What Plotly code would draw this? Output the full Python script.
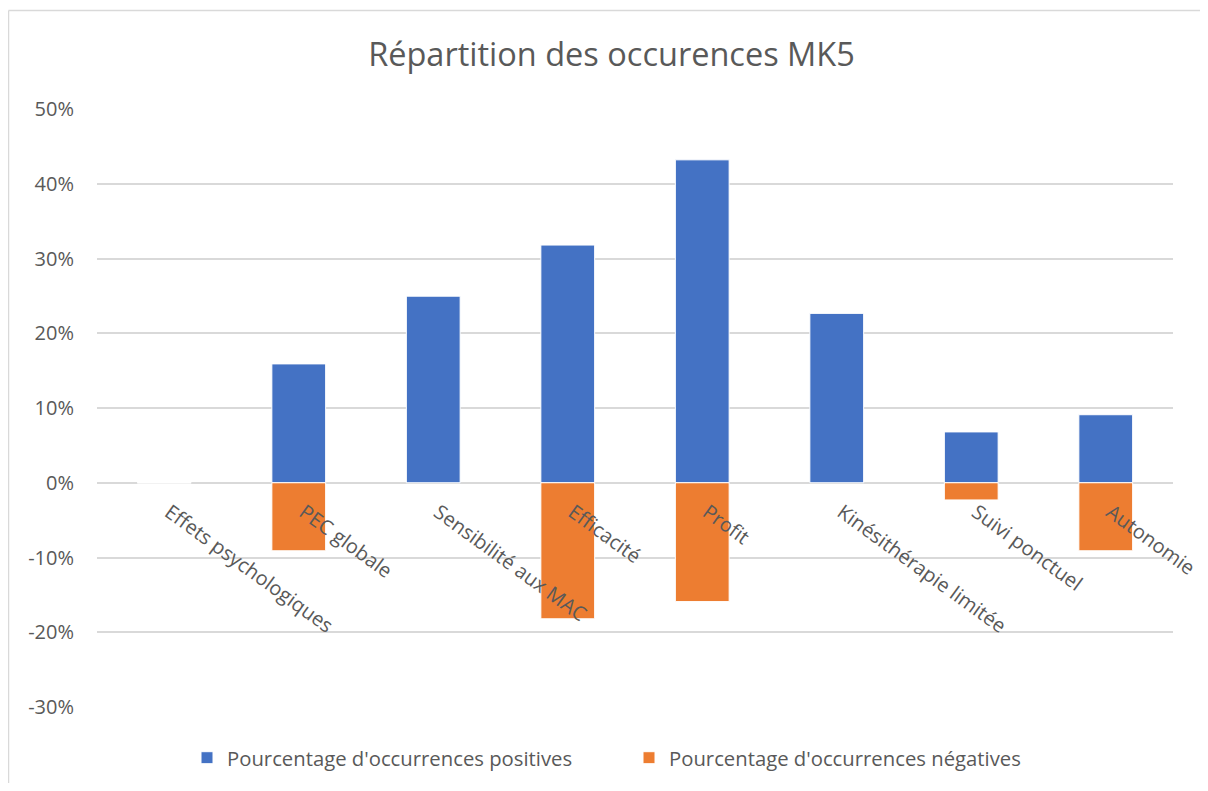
import plotly.graph_objects as go

categories = ["Effets psychologiques", "PEC globale", "Sensibilité aux MAC", "Efficacité",
              "Profit", "Kinésithérapie limitée", "Suivi ponctuel", "Autonomie"]
positives = [0, 15.9, 25.0, 31.8, 43.2, 22.7, 6.8, 9.1]
negatives = [0, -9.1, 0, -18.2, -15.9, 0, -2.3, -9.1]
series_names = ["Pourcentage d'occurrences positives", "Pourcentage d'occurrences négatives"]
y_ticks = [-30, -20, -10, 0, 10, 20, 30, 40, 50]
y_tick_labels = ["-30%", "-20%", "-10%", "0%", "10%", "20%", "30%", "40%", "50%"]

FONT = "Open Sans"
GREY = "#595959"

W, H = 1192, 775
L, R, T, B = 89, 27, 101, 76
PW, PH = W - L - R, H - T - B

fig = go.Figure()
fig.add_trace(go.Bar(x=categories, y=positives, name=series_names[0],
                     marker=dict(color="#4472C4", line=dict(color="white", width=1))))
fig.add_trace(go.Bar(x=categories, y=negatives, name=series_names[1],
                     marker=dict(color="#ED7D31", line=dict(color="white", width=1))))

bx0 = (0.5 - L) / PW
by1 = (PH + T - 2.5) / PH
fig.update_layout(
    width=W, height=H,
    margin=dict(l=L, r=R, t=T, b=B, autoexpand=False),
    paper_bgcolor="white", plot_bgcolor="white",
    barmode="relative", bargap=0.6,
    font=dict(family=FONT, color=GREY, size=20),
    title=dict(text="Répartition des occurences MK5", x=603.5 / W, xanchor="center",
               y=1 - 47 / H, yanchor="middle", font=dict(size=32.5, color=GREY, family=FONT)),
    legend=dict(orientation="h", xref="container", yref="container",
                x=179 / W, xanchor="left", y=1 - 750 / H, yanchor="middle",
                font=dict(size=20.3, color=GREY), itemwidth=30, entrywidth=397,
                traceorder="normal", bgcolor="rgba(0,0,0,0)"),
    xaxis=dict(anchor="free", position=(699 - 474) / PH, showgrid=False, showline=False,
               zeroline=False, ticks="", tickangle=36, ticklabelstandoff=14,
               ticklabelshift=5, automargin=False, tickfont=dict(size=20, color=GREY)),
    yaxis=dict(range=[-30, 50], tickvals=y_ticks, ticktext=y_tick_labels, showgrid=True,
               gridcolor="#d9d9d9", gridwidth=1.5, zeroline=False, showline=False,
               ticks="", ticklabelstandoff=22, automargin=False,
               tickfont=dict(size=20, color=GREY)),
    shapes=[
        dict(type="line", xref="paper", yref="paper", x0=bx0, x1=bx0,
             y0=-(B + 30) / PH, y1=by1, line=dict(color="#d9d9d9", width=1.5), layer="below"),
        dict(type="line", xref="paper", yref="paper", x0=bx0, x1=(W + 40 - L) / PW,
             y0=by1, y1=by1, line=dict(color="#d9d9d9", width=1.5), layer="below"),
    ],
)

fig.write_html("out.html")
